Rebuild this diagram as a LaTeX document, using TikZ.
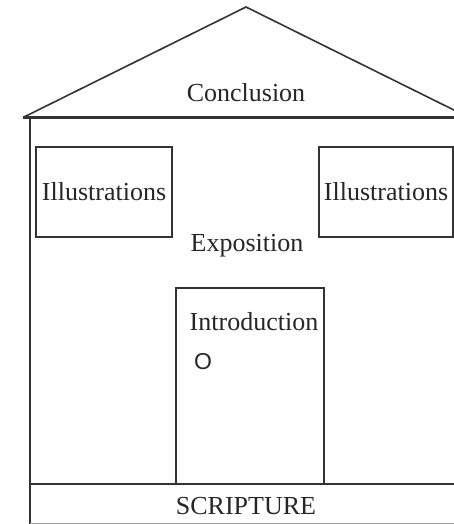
\documentclass[tikz,border=0pt]{standalone}
\usepackage{fontspec}
\setmainfont{Liberation Serif}
\newfontfamily\knobfont{Liberation Sans}
\begin{document}
\begin{tikzpicture}[x=1pt,y=-1pt,
		line width=1.6pt, draw=black!80,
		every node/.style={font=\fontsize{26}{30}\selectfont, text=black!85},
		frame/.style={draw, line width=1.6pt, inner sep=0pt}]
		
		\useasboundingbox (0,0) rectangle (454,524);
		\clip (0,0) rectangle (454,524);
		
		% roof
		\coordinate (apex) at (246,7);
		\coordinate (eaveL) at (23,117.5);
		\coordinate (eaveR) at (469,117.5);
		\draw (eaveL) -- (apex) -- (eaveR);
		\draw[line width=2.6pt] (eaveL) -- (eaveR);
		\node (conclusion) at (246,93) {Conclusion};
		
		% walls and foundation
		\coordinate (wallTop) at (30,118);
		\coordinate (wallBot) at (30,524);
		\draw (wallTop) -- (wallBot);
		\coordinate (floorL) at (30,484);
		\coordinate (floorR) at (460,484);
		\draw[line width=2.6pt] (floorL) -- (floorR);
		\draw[line width=0.8pt, black!40] (30,523) -- (460,523);
		\node (scripture) at (246,506) {SCRIPTURE};
		
		% windows
		\node[frame, minimum width=136pt, minimum height=90pt] (illusL) at (104,192) {Illustrations};
		\node[frame, minimum width=134pt, minimum height=90pt] (illusR) at (386,192) {Illustrations};
		\node (exposition) at (247,246) {Exposition};
		
		% door
		\node[frame, minimum width=148pt, minimum height=196pt] (door) at (250,386) {};
		\node (intro) at (254,322) {Introduction};
		\node[font=\knobfont\fontsize{23}{26}\selectfont] (knob) at (203,362) {O};
		
	\end{tikzpicture}
\end{document}
